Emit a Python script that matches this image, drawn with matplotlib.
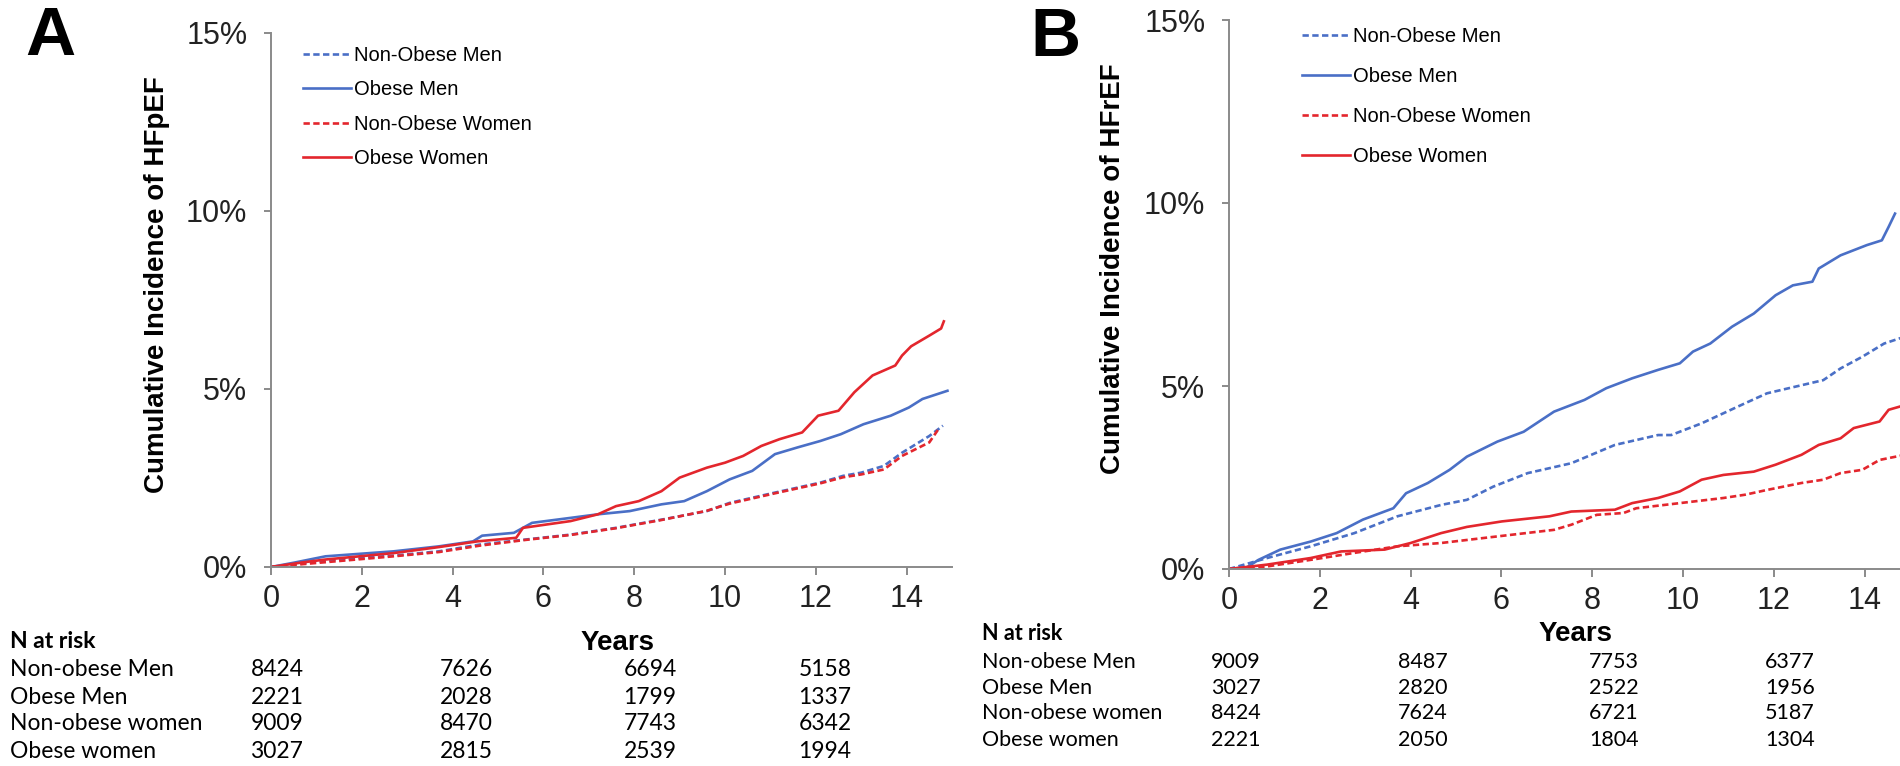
import numpy as np
import matplotlib
matplotlib.use('Agg')
import matplotlib.pyplot as plt
import matplotlib.transforms as mtransforms
from matplotlib.ticker import FuncFormatter

plt.rcParams['font.family'] = ['Liberation Sans', 'DejaVu Sans']

BLUE = '#4a6fc6'
RED = '#e3262d'
AXIS_GREY = '#8a8a8a'

# ---- Panel A: cumulative incidence of HFpEF (%) ----
a_nonobese_men_t = [0, 0.7, 1.7, 2.7, 3.7, 4.6, 5.6, 6.6, 7.6, 8.6, 9.6, 10.1, 11.1, 12.1, 12.6, 13.0, 13.5, 13.9, 14.5, 14.8]
a_nonobese_men_y = [0, 0.11, 0.23, 0.32, 0.44, 0.63, 0.77, 0.91, 1.10, 1.33, 1.57, 1.80, 2.09, 2.37, 2.56, 2.65, 2.84, 3.21, 3.68, 3.97]

a_obese_men_t = [0, 0.5, 1.2, 2.7, 3.7, 4.45, 4.65, 5.35, 5.75, 6.6, 7.2, 7.9, 8.6, 9.1, 9.6, 10.1, 10.6,
                 11.1, 11.6, 12.1, 12.55, 13.05, 13.65, 14.05, 14.35, 14.9]
a_obese_men_y = [0, 0.12, 0.30, 0.44, 0.58, 0.72, 0.88, 0.96, 1.24, 1.38, 1.48, 1.57, 1.76, 1.85, 2.13, 2.46, 2.70,
                 3.17, 3.36, 3.54, 3.73, 4.01, 4.25, 4.48, 4.72, 4.95]

a_nonobese_women_t = [0, 0.7, 1.7, 2.7, 3.7, 4.6, 5.6, 6.6, 7.6, 8.6, 9.6, 10.1, 11.1, 12.1, 12.6, 13.0, 13.5, 13.9, 14.5, 14.7]
a_nonobese_women_y = [0, 0.08, 0.19, 0.30, 0.42, 0.60, 0.76, 0.90, 1.09, 1.32, 1.58, 1.78, 2.07, 2.35, 2.52, 2.60, 2.74, 3.12, 3.50, 3.87]

a_obese_women_t = [0, 0.7, 1.2, 2.7, 3.7, 4.55, 5.4, 5.55, 6.6, 7.2, 7.6, 8.1, 8.6, 9.0, 9.6, 10.0, 10.4, 10.8,
                   11.2, 11.7, 12.05, 12.5, 12.85, 13.25, 13.75, 13.9, 14.1, 14.5, 14.76, 14.82]
a_obese_women_y = [0, 0.13, 0.21, 0.39, 0.56, 0.72, 0.82, 1.10, 1.29, 1.48, 1.71, 1.85, 2.13, 2.51, 2.79, 2.93, 3.12, 3.40,
                   3.59, 3.78, 4.25, 4.39, 4.91, 5.38, 5.66, 5.94, 6.20, 6.50, 6.70, 6.90]

# ---- Panel B: cumulative incidence of HFrEF (%) ----
b_nonobese_men_t = [0, 0.84, 1.8, 2.76, 3.71, 4.67, 5.24, 5.82, 6.58, 7.54, 8.5, 9.45, 9.74, 10.41, 11.37, 11.85,
                    12.33, 13.09, 13.47, 13.95, 14.43, 14.89]
b_nonobese_men_y = [0, 0.30, 0.62, 0.98, 1.44, 1.75, 1.89, 2.25, 2.62, 2.89, 3.39, 3.66, 3.66, 3.98, 4.53, 4.80,
                    4.94, 5.16, 5.48, 5.80, 6.16, 6.35]

b_obese_men_t = [0, 0.4, 0.65, 1.13, 1.8, 2.37, 2.95, 3.62, 3.9, 4.38, 4.86, 5.24, 5.91, 6.49, 7.16, 7.83, 8.31,
                 8.88, 9.45, 9.93, 10.22, 10.6, 11.08, 11.56, 12.04, 12.42, 12.85, 12.99, 13.47, 14.05, 14.38, 14.53, 14.67]
b_obese_men_y = [0, 0.05, 0.25, 0.53, 0.75, 0.98, 1.35, 1.66, 2.07, 2.35, 2.71, 3.07, 3.48, 3.75, 4.30, 4.62, 4.94,
                 5.21, 5.44, 5.62, 5.94, 6.16, 6.62, 6.98, 7.48, 7.75, 7.85, 8.21, 8.57, 8.85, 8.98, 9.35, 9.71]

b_nonobese_women_t = [0, 0.84, 1.8, 2.76, 3.71, 4.67, 5.63, 7.16, 7.54, 8.1, 8.69, 8.97, 9.93, 10.89, 11.37, 11.85,
                      12.61, 13.09, 13.47, 13.95, 14.33, 14.89]
b_nonobese_women_y = [0, 0.07, 0.25, 0.44, 0.62, 0.71, 0.85, 1.07, 1.21, 1.48, 1.53, 1.66, 1.80, 1.94, 2.03, 2.16,
                      2.35, 2.44, 2.62, 2.71, 2.98, 3.12]

b_obese_women_t = [0, 0.84, 1.8, 2.47, 3.43, 4.0, 4.67, 5.24, 6.01, 7.06, 7.54, 8.5, 8.88, 9.45, 9.93, 10.41, 10.89,
                   11.56, 12.04, 12.61, 12.99, 13.47, 13.76, 14.33, 14.53, 14.81]
b_obese_women_y = [0, 0.12, 0.30, 0.48, 0.53, 0.71, 0.98, 1.15, 1.30, 1.44, 1.57, 1.62, 1.80, 1.94, 2.12, 2.44, 2.57,
                   2.66, 2.85, 3.12, 3.39, 3.57, 3.85, 4.03, 4.35, 4.45]

# ---- numbers at risk (years 0, 4, 8, 12) ----
risk_groups = ['Non-obese Men', 'Obese Men', 'Non-obese women', 'Obese women']
risk_a = [[8424, 7626, 6694, 5158],
          [2221, 2028, 1799, 1337],
          [9009, 8470, 7743, 6342],
          [3027, 2815, 2539, 1994]]
risk_b = [[9009, 8487, 7753, 6377],
          [3027, 2820, 2522, 1956],
          [8424, 7624, 6721, 5187],
          [2221, 2050, 1804, 1304]]

legend_labels = ['Non-Obese Men', 'Obese Men', 'Non-Obese Women', 'Obese Women']

W, H = 1900, 766
fig = plt.figure(figsize=(W / 100, H / 100), dpi=100)


def fx(px):
    return px / W


def fy(py):
    # pixel row counted from the top -> figure fraction
    return 1 - py / H


def style_axes(ax):
    ax.set_xlim(0, 15)
    ax.set_ylim(0, 15)
    for s in ['top', 'right']:
        ax.spines[s].set_visible(False)
    for s in ['left', 'bottom']:
        ax.spines[s].set_color(AXIS_GREY)
        ax.spines[s].set_linewidth(1.4)
    ax.set_xticks(np.arange(0, 15, 2))
    ax.set_yticks([0, 5, 10, 15])
    ax.yaxis.set_major_formatter(FuncFormatter(lambda v, p: '%d%%' % v))
    ax.tick_params(axis='x', length=6, width=1.4, color=AXIS_GREY, labelsize=22, pad=6)
    ax.tick_params(axis='y', length=5, width=1.4, color=AXIS_GREY, labelsize=22, pad=12)
    for lab in ax.get_xticklabels() + ax.get_yticklabels():
        lab.set_color('#222222')


def draw_panel(ax, series):
    handles = []
    for t, y, color, ls in series:
        if ls == 'dash':
            h, = ax.plot(t, y, color=color, lw=1.9, linestyle=(0, (2.4, 1.3)))
        else:
            h, = ax.plot(t, y, color=color, lw=1.9)
        handles.append(h)
    return handles


def risk_table(ax, rows, label_x, head_y, row_ys, num_x, size):
    tr = mtransforms.blended_transform_factory(ax.transData, fig.transFigure)
    fig.text(fx(label_x), fy(head_y), 'N at risk', family='Lato', weight='bold',
             fontsize=size, va='center', ha='left')
    for name, counts, ry in zip(risk_groups, rows, row_ys):
        fig.text(fx(label_x), fy(ry), name, family='Lato', fontsize=size, va='center', ha='left')
        for xpos, n in zip(num_x, counts):
            ax.text(xpos, fy(ry), str(n), transform=tr, family='Lato', fontsize=size,
                    va='center', ha='center', clip_on=False)


# Panel A
ax_a = fig.add_axes([fx(271), 1 - 567 / H, fx(681), 534 / H])
style_axes(ax_a)
h_a = draw_panel(ax_a, [
    (a_nonobese_men_t, a_nonobese_men_y, BLUE, 'dash'),
    (a_obese_men_t, a_obese_men_y, BLUE, 'solid'),
    (a_nonobese_women_t, a_nonobese_women_y, RED, 'dash'),
    (a_obese_women_t, a_obese_women_y, RED, 'solid'),
])
fig.legend(h_a, legend_labels, loc='upper left', bbox_to_anchor=(fx(303), fy(46)),
           frameon=False, fontsize=14.5, handlelength=2.4, handletextpad=0.15,
           labelspacing=0.76, borderpad=0, borderaxespad=0)
fig.text(fx(157), fy(285), 'Cumulative Incidence of HFpEF', rotation=90, fontsize=20,
         weight='bold', ha='center', va='center')
fig.text(fx(618), fy(643), 'Years', fontsize=20, weight='bold', ha='center', va='center')
fig.text(fx(50), fy(37), 'A', fontsize=50, weight='bold', ha='center', va='center')
risk_table(ax_a, risk_a, 10, 641, [670, 697, 724, 751], [0.13, 4.3, 8.35, 12.2], 16.5)

# Panel B
ax_b = fig.add_axes([fx(1229), 1 - 569 / H, fx(681), 549 / H])
style_axes(ax_b)
h_b = draw_panel(ax_b, [
    (b_nonobese_men_t, b_nonobese_men_y, BLUE, 'dash'),
    (b_obese_men_t, b_obese_men_y, BLUE, 'solid'),
    (b_nonobese_women_t, b_nonobese_women_y, RED, 'dash'),
    (b_obese_women_t, b_obese_women_y, RED, 'solid'),
])
fig.legend(h_b, legend_labels, loc='upper left', bbox_to_anchor=(fx(1302), fy(27)),
           frameon=False, fontsize=14.5, handlelength=2.4, handletextpad=0.15,
           labelspacing=1.05, borderpad=0, borderaxespad=0)
fig.text(fx(1113), fy(269), 'Cumulative Incidence of HFrEF', rotation=90, fontsize=20,
         weight='bold', ha='center', va='center')
fig.text(fx(1576), fy(634), 'Years', fontsize=20, weight='bold', ha='center', va='center')
fig.text(fx(1055), fy(38), 'B', fontsize=50, weight='bold', ha='center', va='center')
risk_table(ax_b, risk_b, 982, 634, [662, 688, 713, 740], [0.15, 4.27, 8.48, 12.36], 15.5)

fig.savefig('out.png', dpi=100)
